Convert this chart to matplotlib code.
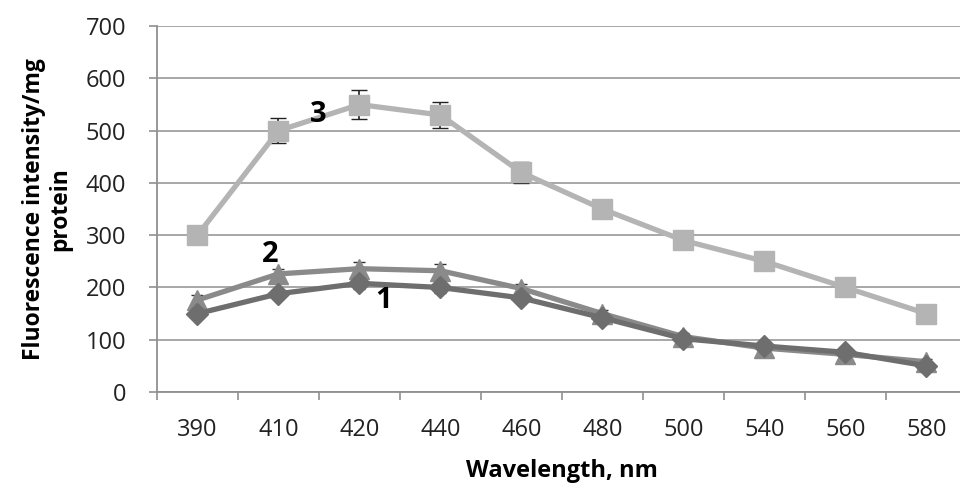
import numpy as np
import matplotlib
matplotlib.use('Agg')
import matplotlib.pyplot as plt

# wavelength categories (nm)
wavelengths = ['390', '410', '420', '440', '460', '480', '500', '540', '560', '580']

# fluorescence intensity / mg protein
series1 = [150, 188, 208, 200, 180, 142, 102, 88, 76, 50]
series2 = [176, 226, 236, 232, 198, 150, 106, 84, 72, 58]
series3 = [300, 500, 550, 530, 420, 350, 290, 250, 200, 150]

err1 = [8, 8, 10, 10, 8, 6, 6, 6, 6, 6]
err2 = [10, 10, 12, 12, 8, 6, 6, 6, 6, 6]
err3 = [0, 24, 28, 25, 20, 0, 0, 0, 0, 0]

plt.rcParams['font.family'] = ['Open Sans', 'DejaVu Sans']

fig = plt.figure(figsize=(9.6, 4.84), dpi=100)
ax = fig.add_axes([0.1635, 0.19, 0.84375, 0.756])

x = np.arange(len(wavelengths))

ax.errorbar(x, series3, yerr=err3, color='#b4b4b4', lw=3.8, marker='s', ms=15,
            ecolor='#222222', elinewidth=1.2, capsize=6, zorder=3)
ax.errorbar(x, series2, yerr=err2, color='#8a8a8a', lw=3.8, marker='^', ms=15,
            ecolor='#333333', elinewidth=1.2, capsize=4, zorder=4)
ax.errorbar(x, series1, yerr=err1, color='#6e6e6e', lw=3.8, marker='D', ms=11,
            ecolor='#333333', elinewidth=1.2, capsize=4, zorder=5)

# curve numbers
ax.text(1.49, 530, '3', fontsize=21, fontweight='bold', ha='center', va='center', zorder=6)
ax.text(0.9, 264, '2', fontsize=21, fontweight='bold', ha='center', va='center', zorder=6)
ax.text(2.3, 176, '1', fontsize=21, fontweight='bold', ha='center', va='center', zorder=6)

ax.set_xlim(-0.5, len(wavelengths) - 0.5)
ax.set_ylim(0, 700)
ax.set_yticks(np.arange(0, 701, 100))
ax.set_xticks(x)
ax.set_xticklabels(wavelengths)
ax.set_xticks(np.arange(-0.5, len(wavelengths)), minor=True)
ax.tick_params(axis='x', which='major', length=0, pad=19, labelsize=17, colors='#222222')
ax.tick_params(axis='x', which='minor', length=6, width=1.2, color='#909090', direction='out')
ax.tick_params(axis='y', length=6, width=1.2, color='#909090', pad=16, labelsize=17,
               labelcolor='#222222')

ax.grid(axis='y', color='#a0a0a0', lw=1.3, zorder=0)
ax.set_axisbelow(True)
for s in ['top', 'right']:
    ax.spines[s].set_visible(False)
for s in ['left', 'bottom']:
    ax.spines[s].set_color('#909090')
    ax.spines[s].set_linewidth(1.3)

ax.set_xlabel('Wavelength, nm', fontsize=17, fontweight='bold', labelpad=12)
ax.set_ylabel('Fluorescence intensity/mg\nprotein', fontsize=16.5, fontweight='bold',
              linespacing=1.1, labelpad=10)

fig.savefig('out.png', dpi=100)
